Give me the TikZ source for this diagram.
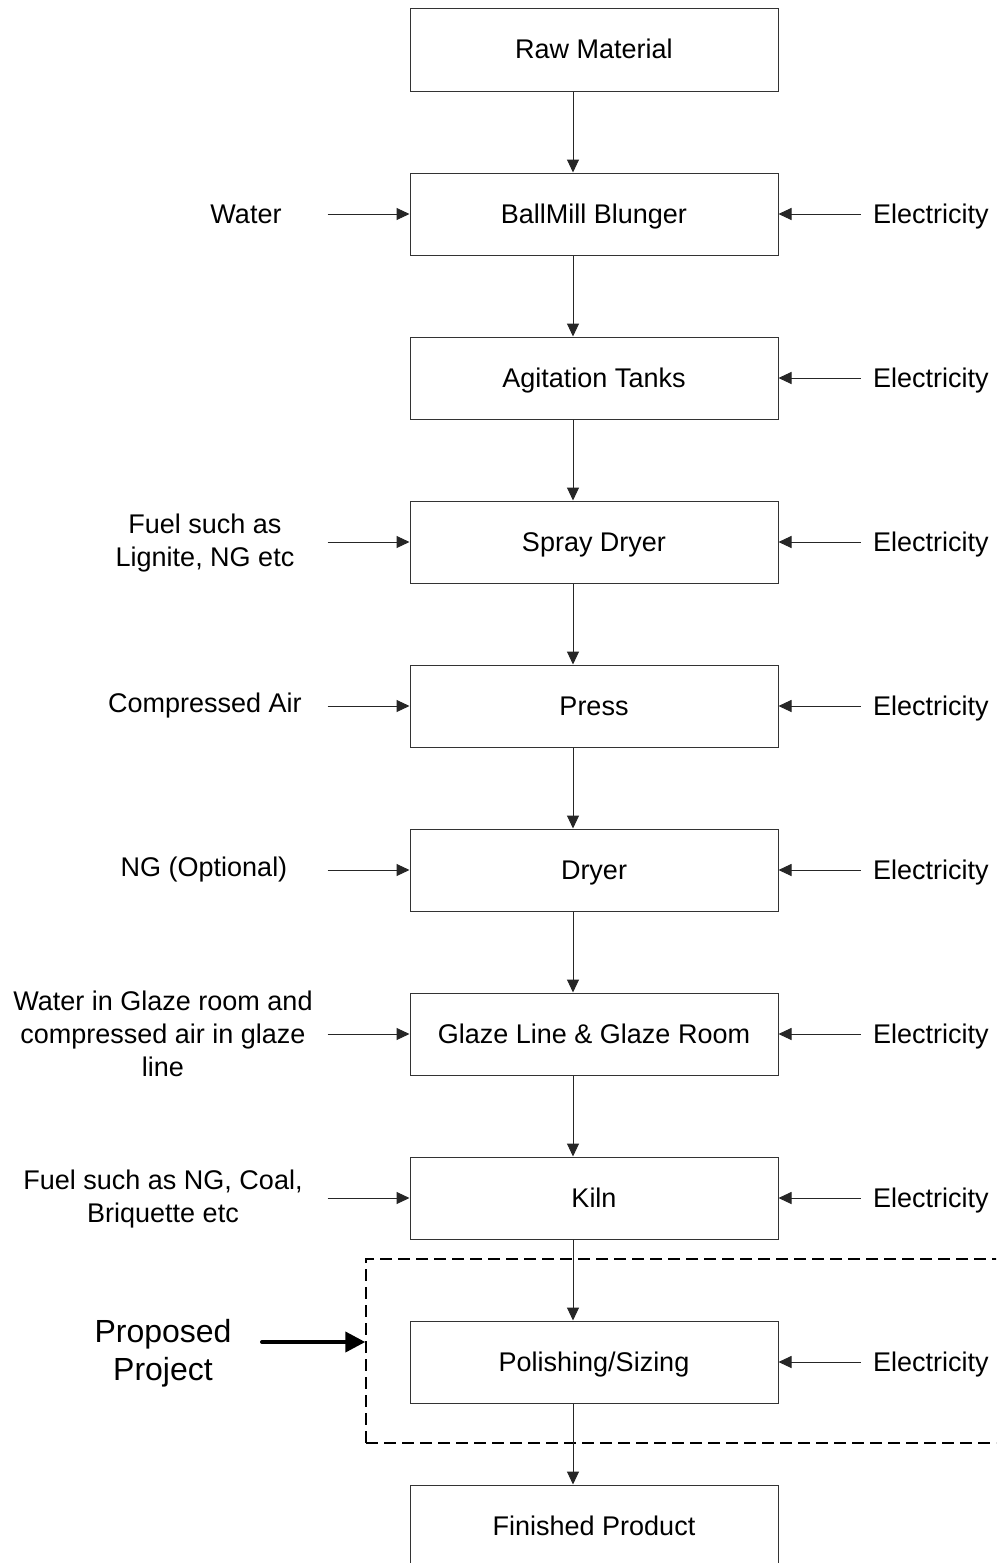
\documentclass[tikz,border=0pt]{standalone}
\usepackage{fontspec}
\setmainfont{Liberation Sans}
\usetikzlibrary{arrows.meta}
\begin{document}
\begin{tikzpicture}[x=1pt,y=-1pt,
  box/.style={draw=black!80, line width=1pt, minimum width=368pt, minimum height=82pt,
    inner sep=0pt, text height=20pt, text depth=2pt, font=\fontsize{27}{33}\selectfont},
  lbl/.style={inner sep=0pt, align=center, font=\fontsize{27}{33}\selectfont},
  biglbl/.style={inner sep=0pt, align=center, font=\fontsize{32}{38}\selectfont},
  flow/.style={draw=black!85, line width=1pt, -{Triangle[length=13pt,width=12pt]}},
  bigflow/.style={draw=black, line width=4pt, line cap=round, -{Triangle[length=20pt,width=20pt]}},
  dashbox/.style={draw=black, line width=1.4pt, dash pattern=on 12pt off 6pt, minimum width=650pt, minimum height=184pt, inner sep=0pt}
]
\clip (0,0) rectangle (996,1563);
\fill[white] (0,0) rectangle (996,1563);

% dashed proposed-project region
\node[dashbox] (proj) at (691,1351) {};

% process boxes
\node[box] (raw)    at (594,50)   {Raw Material};
\node[box] (ball)   at (594,214)  {BallMill Blunger};
\node[box] (agit)   at (594,378)  {Agitation Tanks};
\node[box] (spray)  at (594,542)  {Spray Dryer};
\node[box] (press)  at (594,706)  {Press};
\node[box] (dryer)  at (594,870)  {Dryer};
\node[box] (glaze)  at (594,1034) {Glaze Line \& Glaze Room};
\node[box] (kiln)   at (594,1198) {Kiln};
\node[box] (polish) at (594,1362) {Polishing/Sizing};
\node[box] (fin)    at (594,1526) {Finished Product};

% vertical flow
\foreach \a/\b in {raw/ball, ball/agit, agit/spray, spray/press, press/dryer,
                   dryer/glaze, glaze/kiln, kiln/polish, polish/fin}
  \draw[flow] ([xshift=-21pt]\a.south) -- ([xshift=-21pt]\b.north);

% left inputs
\node[lbl] (inwater) at (246,214)  {Water};
\node[lbl] (infuel)  at (205,543)  {Fuel such as\\Lignite, NG etc};
\node[lbl] (inair)   at (205,706)  {Compressed Air};
\node[lbl] (inng)    at (204,870)  {NG (Optional)};
\node[lbl] (inglaze) at (163,1034) {Water in Glaze room and\\compressed air in glaze\\line};
\node[lbl] (inkiln)  at (163,1199) {Fuel such as NG, Coal,\\Briquette etc};
\foreach \n in {ball, spray, press, dryer, glaze, kiln}
  \draw[flow] ([xshift=-82pt]\n.west) -- (\n.west);

% right inputs (electricity)
\foreach \n in {ball, agit, spray, press, dryer, glaze, kiln, polish} {
  \node[lbl, anchor=base west] (el\n) at ([yshift=-9pt]873,0 |- \n.center) {Electricity};
  \draw[flow] ([xshift=82pt]\n.east) -- (\n.east);
}

% proposed project
\node[biglbl] (pp) at (163,1353) {Proposed\\Project};
\coordinate (ppa) at (262,1342);
\draw[bigflow] (ppa) -- (proj.west |- ppa);
\end{tikzpicture}
\end{document}
